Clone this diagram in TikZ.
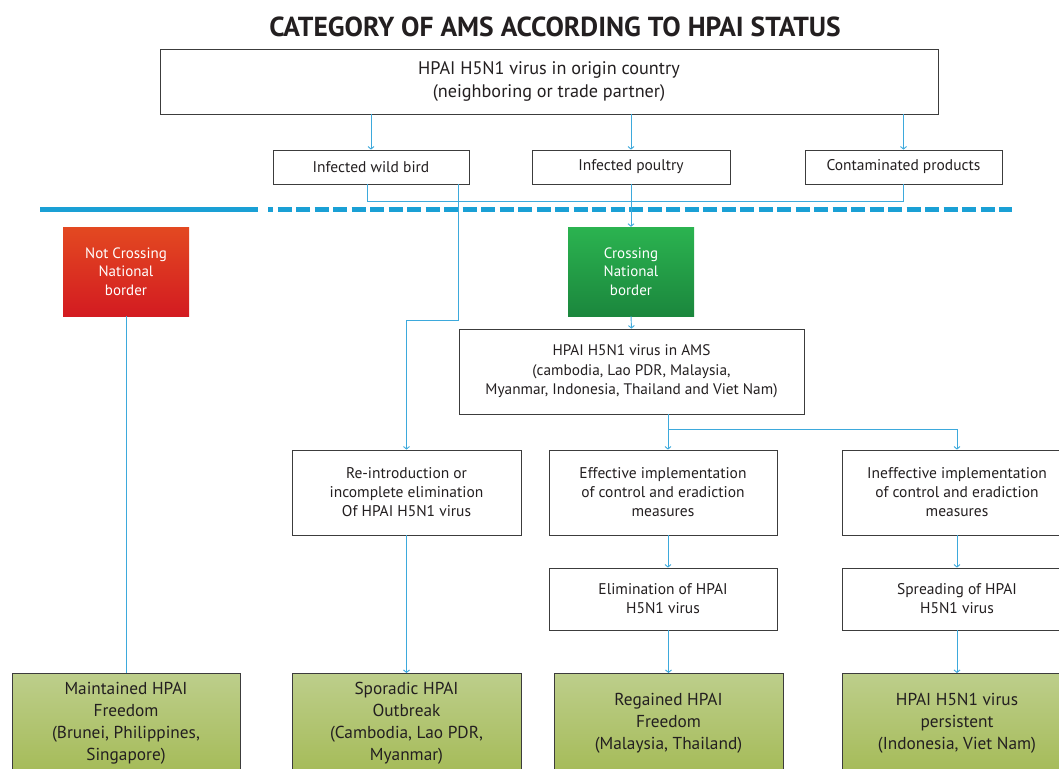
\documentclass[tikz,border=0pt]{standalone}
\usepackage{fontspec}
\setmainfont{PT Sans}
\usetikzlibrary{positioning}
\usetikzlibrary{arrows.meta}

\definecolor{lineblue}{RGB}{61,169,220}
\definecolor{barblue}{RGB}{26,160,213}
\definecolor{boxgray}{RGB}{60,60,60}
\definecolor{txtgray}{RGB}{35,31,32}

\tikzset{
  plainbox/.style={draw=boxgray, line width=0.8pt, fill=white, text=txtgray, align=center, inner sep=0pt, font=\fontsize{15.5}{19}\selectfont},
  borderbox/.style={minimum width=126pt, minimum height=89pt, inner sep=0pt, align=center, text=white, font=\fontsize{15}{18.5}\selectfont},
  statusbox/.style={draw=boxgray, line width=0.8pt, top color={rgb,255:red,189;green,206;blue,139}, bottom color={rgb,255:red,165;green,187;blue,88}, text=txtgray, align=center, inner sep=0pt, minimum width=229pt, minimum height=100pt, anchor=north, font=\fontsize{17.3}{22}\selectfont},
  link/.style={draw=lineblue, line width=0.9pt},
  flow/.style={link, -{Straight Barb[length=2.5pt,width=6pt]}},
  borderline/.style={draw=barblue, line width=5pt}
}

\begin{document}
\begin{tikzpicture}[x=1pt,y=-1pt]
     \useasboundingbox (0,0) rectangle (1059,768);
     \node[text=txtgray, font=\bfseries\fontsize{27.5}{30}\selectfont] (title) at (555,27) {CATEGORY OF AMS ACCORDING TO HPAI STATUS};
     \node[plainbox, minimum width=778pt, minimum height=65pt, font=\fontsize{18.2}{23}\selectfont] (origin) at (549,81.5) {HPAI H5N1 virus in origin country\\(neighboring or trade partner)};
     \node[plainbox, minimum width=196pt, minimum height=34pt] (wild) at (371,167) {Infected wild bird};
     \node[plainbox, minimum width=198pt, minimum height=34pt] (poultry) at (631,167) {Infected poultry};
     \node[plainbox, minimum width=197pt, minimum height=34pt] (products) at (903.5,167) {Contaminated products};
     % national border
     \draw[borderline] (40,209) -- (258,209);
     \draw[borderline, dash pattern=on 14pt off 4.5pt, dash phase=9pt] (268,209) -- (1012,209);
     \node[borderbox, top color={rgb,255:red,227;green,73;blue,33}, bottom color={rgb,255:red,211;green,27;blue,33}] (notcross) at (126,271.5) {Not Crossing\\National\\border};
     \node[borderbox, top color={rgb,255:red,43;green,179;blue,80}, bottom color={rgb,255:red,27;green,135;blue,61}] (cross) at (631,271.5) {Crossing\\National\\border};
     \node[plainbox, minimum width=345pt, minimum height=85pt, font=\fontsize{15.3}{19.5}\selectfont] (ams) at (631.5,371.5) {HPAI H5N1 virus in AMS\\(cambodia, Lao PDR, Malaysia,\\Myanmar, Indonesia, Thailand and Viet Nam)};
     \node[plainbox, minimum width=229pt, minimum height=85pt] (reintro) at (406.5,492.5) {Re-introduction or\\incomplete elimination\\Of HPAI H5N1 virus};
     \node[plainbox, minimum width=228pt, minimum height=85pt] (effective) at (663,492.5) {Effective implementation\\of control and eradiction\\measures};
     \node[plainbox, minimum width=230pt, minimum height=85pt] (ineffective) at (957,492.5) {Ineffective implementation\\of control and eradiction\\measures};
     \node[plainbox, minimum width=228pt, minimum height=62pt] (elimination) at (663,599) {Elimination of HPAI\\H5N1 virus};
     \node[plainbox, minimum width=230pt, minimum height=62pt] (spreading) at (957,599) {Spreading of HPAI\\H5N1 virus};
     \node[statusbox, minimum width=228pt] (maintained) at (126,673) {Maintained HPAI\\Freedom\\(Brunei, Philippines,\\Singapore)};
     \node[statusbox] (sporadic) at (406.5,673) {Sporadic HPAI\\Outbreak\\(Cambodia, Lao PDR,\\Myanmar)};
     \node[statusbox] (regained) at (668.5,673) {Regained HPAI\\Freedom\\(Malaysia, Thailand)};
     \node[statusbox, minimum width=230pt] (persistent) at (957,673) {HPAI H5N1 virus\\persistent\\(Indonesia, Viet Nam)};
     % connectors
     \coordinate (birdpath) at (406.5,320);
     \coordinate (split) at (668,429);
     \draw[flow] (origin.south -| wild.north) -- (wild.north);
     \draw[flow] (origin.south -| poultry.north) -- (poultry.north);
     \draw[flow] (origin.south -| products.north) -- (products.north);
     \draw[link] ([xshift=-4pt]wild.south) -- ++(0,17) -| (products.south);
     \draw[flow] (poultry.south) -- (cross.north);
     \draw[flow] ([xshift=-11pt]wild.south east) |- (birdpath) -- (reintro.north);
     \draw[link] (notcross.south) -- (maintained.north);
     \draw[flow] (cross.south) -- (ams.north);
     \draw[link] (ams.south -| split) -- (split);
     \draw[flow] (split) -- (split |- effective.north);
     \draw[flow] (split) -| (ineffective.north);
     \draw[flow] (split |- effective.south) -- (split |- elimination.north);
     \draw[flow] (ineffective.south) -- (spreading.north);
     \draw[flow] (reintro.south) -- (sporadic.north);
     \draw[flow] (elimination.south -| regained.north) -- (regained.north);
     \draw[flow] (spreading.south) -- (persistent.north);
\end{tikzpicture}
\end{document}
